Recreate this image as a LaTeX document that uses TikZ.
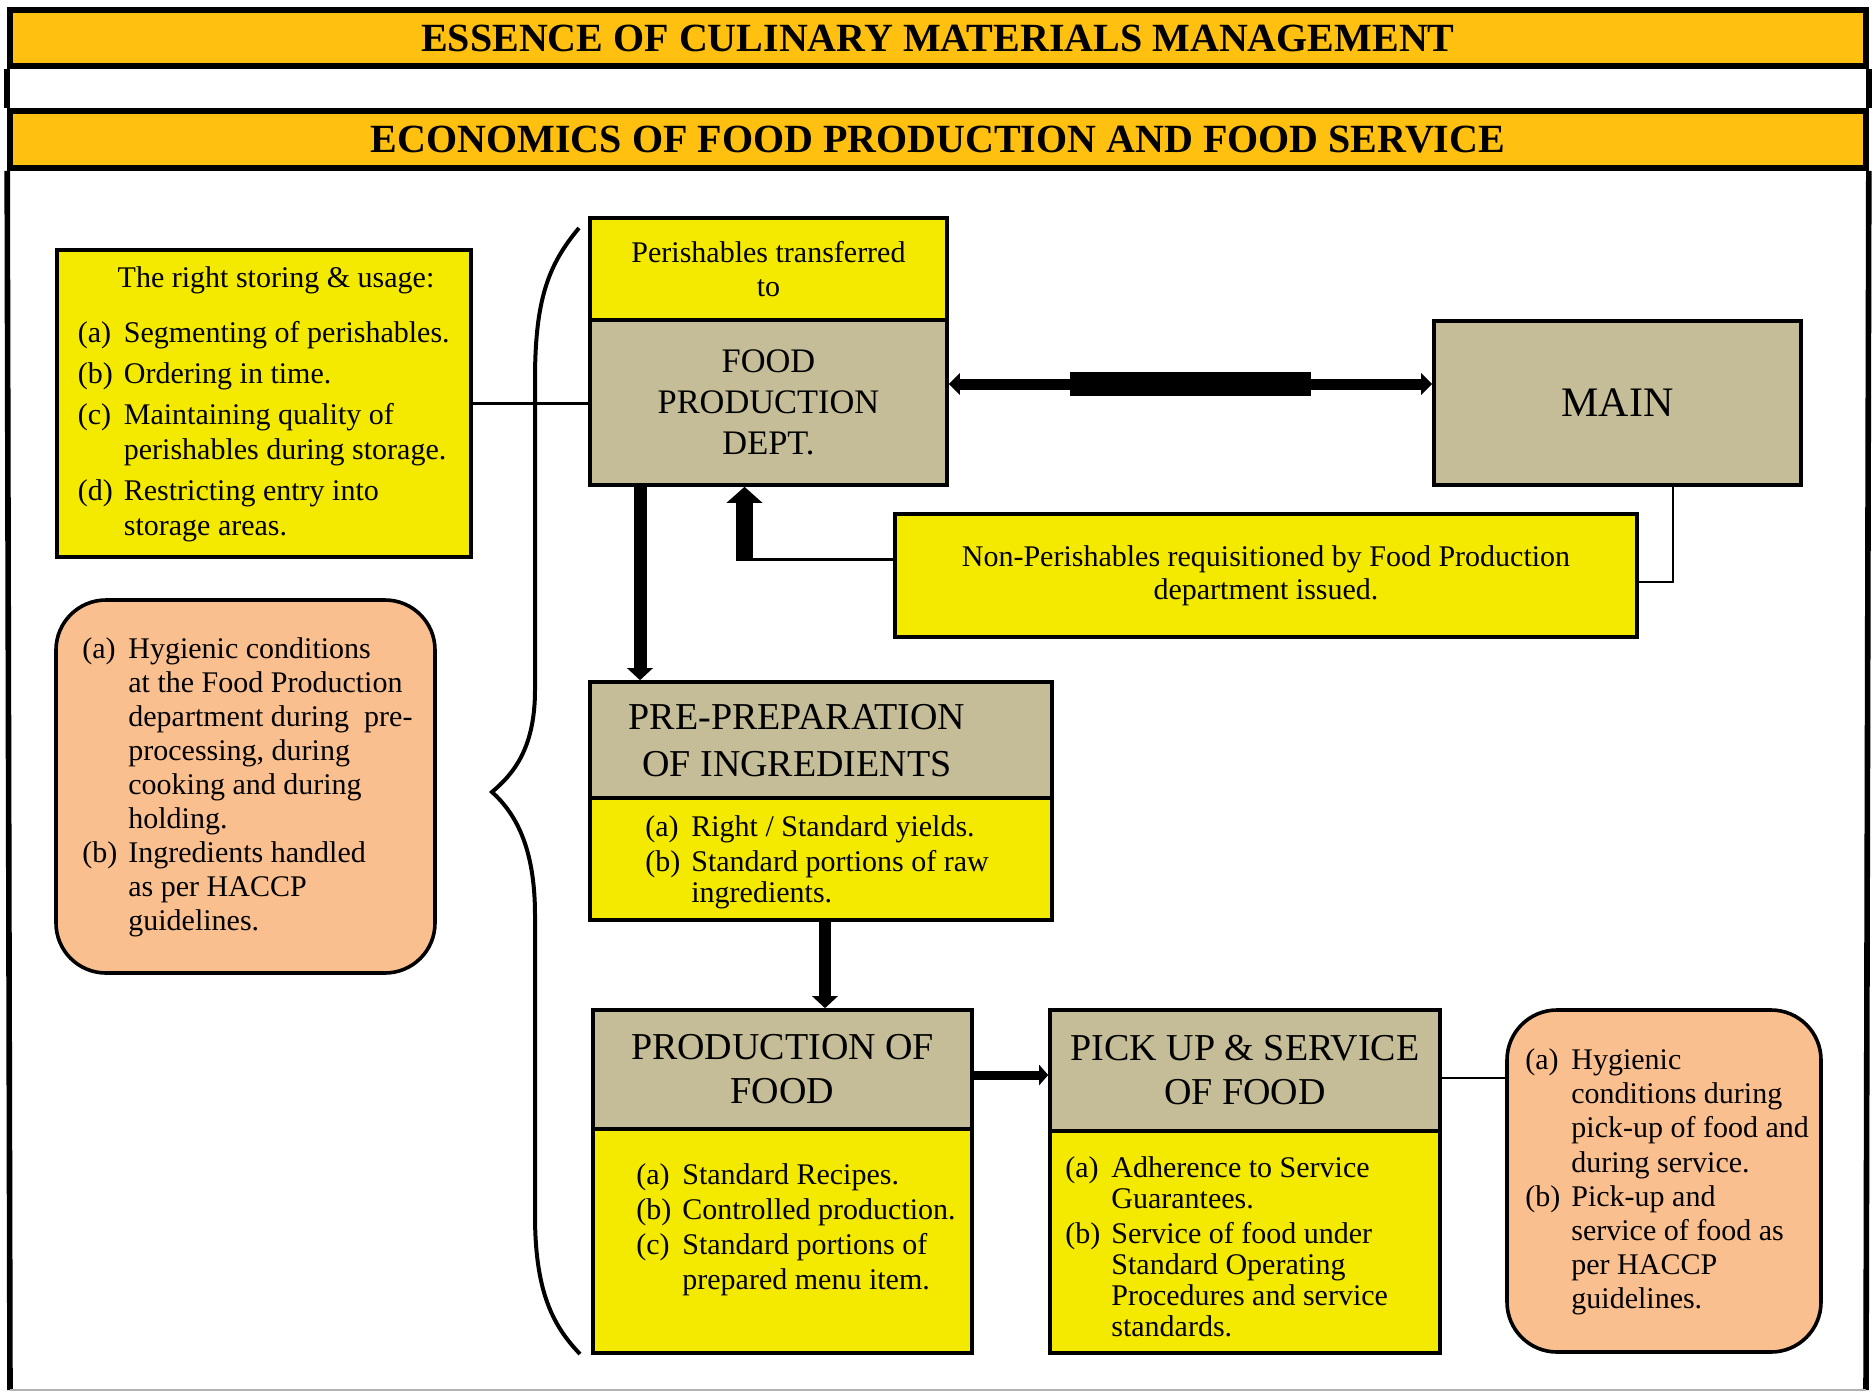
\documentclass[tikz,border=0pt]{standalone}
\usepackage{fontspec}
\setmainfont{Liberation Serif}
\usetikzlibrary{arrows.meta,calc}

\definecolor{titlebar}{RGB}{255,192,16}
\definecolor{boxyellow}{RGB}{244,234,0}
\definecolor{boxtan}{RGB}{196,189,151}
\definecolor{boxpeach}{RGB}{250,191,143}

% list helpers: fixed-width label, indented continuation line
\newcommand{\itemlbl}[1]{\makebox[23pt][l]{#1}}
\newcommand{\itemcont}{\hspace*{23pt}}

\begin{document}
\begin{tikzpicture}[x=0.5pt,y=-0.5pt,
  frame/.style={draw=black,line width=2.8pt},
  titlebox/.style={draw=black,line width=2.8pt,fill=titlebar,inner sep=0pt,
    minimum width=928pt,font=\fontsize{20}{23}\selectfont\bfseries},
  panel/.style={draw=black,line width=1.8pt,inner sep=0pt,rectangle,align=center},
  yellowpanel/.style={panel,fill=boxyellow},
  tanpanel/.style={panel,fill=boxtan},
  peachpanel/.style={panel,fill=boxpeach,rounded corners=25pt},
  heading/.style={inner sep=0pt,align=center,font=\fontsize{19}{#1}\selectfont},
  bodytext/.style={inner sep=0pt,align=left,anchor=west,font=\fontsize{15}{#1}\selectfont},
  centertext/.style={inner sep=0pt,align=center,font=\fontsize{15}{#1}\selectfont},
  thinlink/.style={draw=black,line width=1.2pt},
  fatarrow/.style args={#1/#2/#3}{draw=black,line width=#1,
    -{Triangle[length=#2,width=#3]}},
]
\useasboundingbox (0,0) rectangle (1874,1392);
\fill[white] (0,0) rectangle (1874,1392);

% ---- page frame and title bars ----
\node[titlebox,minimum height=28pt] (title1) at (938,38)
  {ESSENCE OF CULINARY MATERIALS MANAGEMENT};
\node[titlebox,minimum height=28.5pt] (title2) at (938,139.5)
  {ECONOMICS OF FOOD PRODUCTION AND FOOD SERVICE};
\draw[frame] (title1.south west) -- (title2.north west)
             (title1.south east) -- (title2.north east);
\coordinate (pagebl) at (10,1390);
\coordinate (pagebr) at (1866,1390);
\draw[frame] (title2.south west) -- (pagebl)
             (title2.south east) -- (pagebr);
\draw[gray!60,line width=0.8pt] (pagebl) -- (pagebr);

% ---- left column ----
\node[yellowpanel,minimum width=207pt,minimum height=153.5pt] (store) at (264,403.5) {};
\node[centertext=17pt] (storetitle) at (276,280) {The right storing \& usage:};
\node[bodytext=17.5pt] (storelist) at (77.5,431.5) {%
  \itemlbl{(a)}Segmenting of perishables.\\[3pt]
  \itemlbl{(b)}Ordering in time.\\[3pt]
  \itemlbl{(c)}Maintaining quality of\\
  \itemcont perishables during storage.\\[3pt]
  \itemlbl{(d)}Restricting entry into\\
  \itemcont storage areas.};

\node[peachpanel,minimum width=189.5pt,minimum height=186.5pt] (hyg) at (245.5,786.5) {};
\node[bodytext=17pt] (hyglist) at (82,787.5) {%
  \itemlbl{(a)}Hygienic conditions\\
  \itemcont at the Food Production\\
  \itemcont department during\ \ pre-\\
  \itemcont processing, during\\
  \itemcont cooking and during\\
  \itemcont holding.\\
  \itemlbl{(b)}Ingredients handled\\
  \itemcont as per HACCP\\
  \itemcont guidelines.};

% brace gathering the flow
\draw[line width=2pt] (579,228) .. controls (548,265) and (535,300) .. (535,380)
  -- (535,690) .. controls (535,750) and (512,775) .. (492,792)
  .. controls (514,812) and (535,845) .. (535,915)
  -- (535,1215) .. controls (535,1290) and (552,1325) .. (580,1354);

% ---- top flow ----
\node[yellowpanel,minimum width=178.5pt,minimum height=51pt,
      font=\fontsize{15}{17}\selectfont] (perish) at (768.5,269)
  {Perishables transferred\\to};
\node[tanpanel,minimum width=178.5pt,minimum height=82.5pt,
      font=\fontsize{17.2}{20.5}\selectfont] (fpd) at (768.5,402.5)
  {FOOD\\PRODUCTION\\DEPT.};
\node[tanpanel,minimum width=183.5pt,minimum height=82pt,
      font=\fontsize{21}{25}\selectfont] (main) at (1617.5,403) {MAIN};
\node[yellowpanel,minimum width=371pt,minimum height=61.5pt,
      font=\fontsize{15}{16.5}\selectfont] (nonper) at (1266,575.5)
  {Non-Perishables requisitioned by Food Production\\department issued.};

% ---- pre-preparation ----
\node[tanpanel,minimum width=231pt,minimum height=58pt] (prephead) at (821,740) {};
\node[heading=23.5pt] (preptitle) at (797,740.5) {PRE-PREPARATION\\OF INGREDIENTS};
\node[yellowpanel,minimum width=231pt,minimum height=61pt] (prepbody) at (821,859) {};
\node[bodytext=15.5pt] (preplist) at (645,862.5) {%
  \itemlbl{(a)}Right / Standard yields.\\[2pt]
  \itemlbl{(b)}Standard portions of raw\\
  \itemcont ingredients.};

% ---- production ----
\node[tanpanel,minimum width=189.5pt,minimum height=59.5pt,
      font=\fontsize{19}{22}\selectfont] (prodhead) at (782.5,1069.5)
  {PRODUCTION OF\\FOOD};
\node[yellowpanel,minimum width=189.5pt,minimum height=112pt] (prodbody) at (782.5,1241) {};
\node[bodytext=17.5pt] (prodlist) at (636,1230) {%
  \itemlbl{(a)}Standard Recipes.\\
  \itemlbl{(b)}Controlled production.\\
  \itemlbl{(c)}Standard portions of\\
  \itemcont prepared menu item.};

% ---- pick up & service ----
\node[tanpanel,minimum width=195pt,minimum height=60.5pt,
      font=\fontsize{19}{22}\selectfont] (servhead) at (1245,1070.5)
  {PICK UP \& SERVICE\\OF FOOD};
\node[yellowpanel,minimum width=195pt,minimum height=111pt] (servbody) at (1245,1242) {};
\node[bodytext=15.5pt] (servlist) at (1065,1246.5) {%
  \itemlbl{(a)}Adherence to Service\\
  \itemcont Guarantees.\\[2pt]
  \itemlbl{(b)}Service of food under\\
  \itemcont Standard Operating\\
  \itemcont Procedures and service\\
  \itemcont standards.};

\node[peachpanel,minimum width=157pt,minimum height=171pt] (servhyg) at (1664,1181) {};
\node[bodytext=17.1pt] (servhyglist) at (1525,1182) {%
  \itemlbl{(a)}Hygienic\\
  \itemcont conditions during\\
  \itemcont pick-up of food and\\
  \itemcont during service.\\
  \itemlbl{(b)}Pick-up and\\
  \itemcont service of food as\\
  \itemcont per HACCP\\
  \itemcont guidelines.};

% ---- connectors ----
\draw[thinlink] (store.east) -- (store.east -| fpd.west);

% two-way link between the department and main store
\coordinate (linky) at (0,384);
\coordinate (linkl) at (fpd.east |- linky);
\coordinate (linkr) at (main.west |- linky);
\draw[line width=5.5pt,{Triangle[length=5.5pt,width=10.5pt]}-{Triangle[length=5.5pt,width=10.5pt]}]
  (linkl) -- (linkr);
\draw[line width=12pt] ($(linkl)!0.25!(linkr)$) -- ($(linkl)!0.75!(linkr)$);

% main store to non-perishables issue
\coordinate (mainturn) at (1673,582);
\draw[thinlink] (main.south -| mainturn) -- (mainturn) -- (mainturn -| nonper.east);

% non-perishables issued back up to the department
\coordinate (npturn) at (744.5,559.5);
\coordinate (npfoot) at (744.5,561);
\draw[thinlink] (nonper.west |- npturn) -- (npturn);
\draw[fatarrow=8.5pt/8pt/17.5pt] (npfoot) -- (npfoot |- fpd.south);

% main flow downwards and across
\coordinate (flowa) at (640,0);
\draw[fatarrow=6.5pt/6pt/12.5pt] (flowa |- fpd.south) -- (flowa |- prephead.north);
\coordinate (flowb) at (825,0);
\draw[fatarrow=6pt/6pt/12.5pt] (flowb |- prepbody.south) -- (flowb |- prodhead.north);
\coordinate (flowc) at (0,1075);
\draw[fatarrow=4.5pt/4.5pt/10pt] (prodhead.east |- flowc) -- (servhead.west |- flowc);
\coordinate (flowd) at (0,1078);
\draw[thinlink] (servhead.east |- flowd) -- (servhyg.west |- flowd);

\end{tikzpicture}
\end{document}
